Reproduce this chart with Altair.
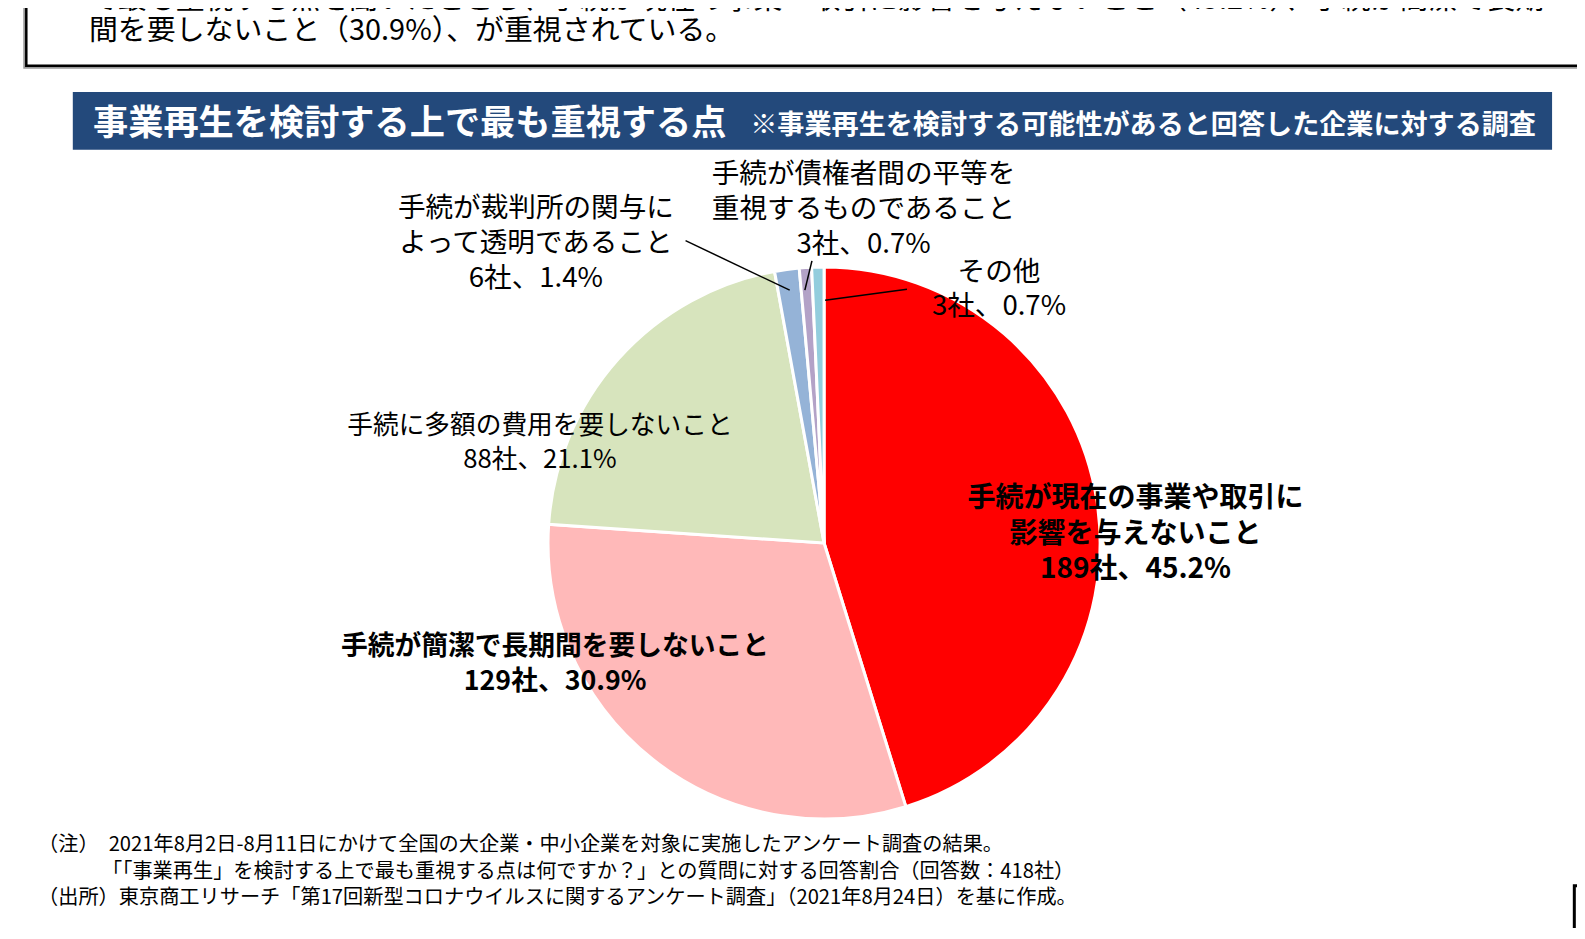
#%%
import pandas as pd
import altair as alt

#%%
# Survey answers (418 companies in total)
categories = ["手続が現在の事業や取引に\n影響を与えないこと",
              "手続が簡潔で長期間を要しないこと",
              "手続に多額の費用を要しないこと",
              "手続が裁判所の関与に\nよって透明であること",
              "手続が債権者間の平等を\n重視するものであること",
              "その他"]
companies = [189, 129, 88, 6, 3, 3]
shares = [45.2, 30.9, 21.1, 1.4, 0.7, 0.7]
colors = ["#FF0000", "#FFB9B9", "#D7E4BD", "#95B3D7", "#B3A2C7", "#93CDDD"]

header_lines = ["で最も重視する点を聞いたところ、手続が現在の事業・取引に影響を与えないこと（45.2%）、手続が簡潔で長期",
                "間を要しないこと（30.9%）、が重視されている。"]
title = "事業再生を検討する上で最も重視する点"
subtitle = "※事業再生を検討する可能性があると回答した企業に対する調査"
notes = ["（注）　2021年8月2日-8月11日にかけて全国の大企業・中小企業を対象に実施したアンケート調査の結果。",
         "「「事業再生」を検討する上で最も重視する点は何ですか？」との質問に対する回答割合（回答数：418社）",
         "（出所）東京商工リサーチ「第17回新型コロナウイルスに関するアンケート調査」（2021年8月24日）を基に作成。"]

FONT = "Noto Sans CJK JP"
W, H = 1569, 920
S = 1 / 0.989  # layout numbers below were measured on a slightly shrunken view of the slide

def px(v):
    # page position as measured -> chart position (page has an 8px margin)
    return v * S - 8

#%%
pie_data = (pd.DataFrame({'category': categories, 'companies': companies, 'share': shares})
    .assign(
        order = lambda x: range(len(x)),
        label = lambda x: x.category + "\n" + x.companies.astype(str) + "社、" + x.share.map("{:.1f}%".format)))
one = pd.DataFrame({'a': [0]})

#%%
# Pie, clockwise from 12 o'clock
pie = (alt.Chart(pie_data)
    .mark_arc(outerRadius=273 * S, stroke="white", strokeWidth=3)
    .encode(
        theta=alt.Theta('companies:Q', stack=True),
        order=alt.Order('order:Q'),
        color=alt.Color('category:N', scale=alt.Scale(domain=categories, range=colors), legend=None),
        x=alt.value(px(815)),
        y=alt.value(px(537))))

# y is the middle of the first line of each label
def slice_label(i, x, y, bold=False, size=26, line=35):
    return (alt.Chart(pie_data)
        .transform_filter(alt.datum.order == i)
        .mark_text(lineBreak="\n", font=FONT, fontSize=size, lineHeight=line * S,
                   fontWeight="bold" if bold else "normal", align="center",
                   baseline="middle", color="black")
        .encode(text='label:N', x=alt.value(px(x)), y=alt.value(px(y))))

labels = [
    slice_label(0, 1123, 494, bold=True, size=28),
    slice_label(1, 549, 640, bold=True, size=26.75),
    slice_label(2, 534, 421, size=25.7, line=34),
    slice_label(3, 530, 207, size=27.6, line=34.5),
    slice_label(4, 854, 173, size=27.6, line=34.5),
    slice_label(5, 988, 270, size=27.6, line=34),
]

def leader(x1, y1, x2, y2):
    return (alt.Chart(one)
        .mark_rule(color="black", strokeWidth=1.5)
        .encode(x=alt.value(px(x1)), y=alt.value(px(y1)), x2=alt.value(px(x2)), y2=alt.value(px(y2))))

leaders = [leader(678, 238, 781, 287), leader(803, 258, 796, 287), leader(897, 286, 816, 297)]

#%%
# Slide furniture: text box at the top, title bar, notes, page number box
def box(x1, y1, x2, y2, stroke, width, fill=None):
    props = dict(stroke=stroke, strokeWidth=width, fillOpacity=1 if fill else 0)
    if fill:
        props['fill'] = fill
    return (alt.Chart(one)
        .mark_rect(**props)
        .encode(x=alt.value(px(x1)), y=alt.value(px(y1)), x2=alt.value(px(x2)), y2=alt.value(px(y2))))

def words(text, x, y, size, weight="normal", color="black", align="left"):
    return (alt.Chart(one)
        .mark_text(text=text, font=FONT, fontSize=size, fontWeight=weight, color=color,
                   align=align, baseline="middle", limit=W - px(x))
        .encode(x=alt.value(px(x)), y=alt.value(px(y))))

furniture = [
    box(24, -40, 1620, 67, "#9A9A9A", 2),
    box(26, -40, 1620, 65, "black", 2.5),
    words(header_lines[0], 88, 0, 28.9),
    words(header_lines[1], 88, 31, 28.9),
    box(72, 91, 1535, 148, "#23497B", 0, fill="#23497B"),
    words(title, 92, 123, 35.2, weight="bold", color="white"),
    words(subtitle, 742, 125, 27.1, weight="bold", color="white"),
    words(notes[0], 37.6, 836, 20.2),
    words(notes[1], 101, 862, 20.2),
    words(notes[2], 37.6, 888, 20.2),
    box(1557, 876, 1620, 925, "black", 3),
]

#%%
chart = (alt.layer(*furniture, pie, *leaders, *labels)
    .properties(width=W, height=H, autosize="none", padding=0)
    .configure_view(stroke=None))

chart.save("out.html", embed_options={"renderer": "svg", "actions": False})
